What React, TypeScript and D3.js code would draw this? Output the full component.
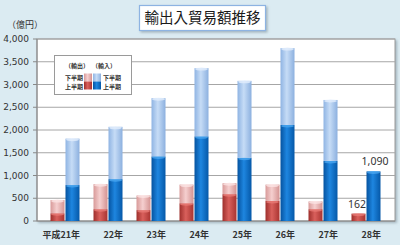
import React from 'react';
import * as d3 from 'd3';

const years = ['平成21年', '22年', '23年', '24年', '25年', '26年', '27年', '28年'];
const exportFirst = [170, 260, 240, 390, 590, 440, 260, 162];
const exportSecond = [290, 550, 320, 410, 240, 360, 170, 0];
const importFirst = [790, 920, 1420, 1860, 1390, 2110, 1320, 1090];
const importSecond = [1020, 1150, 1280, 1500, 1690, 1690, 1340, 0];
const yTicks = [0, 500, 1000, 1500, 2000, 2500, 3000, 3500, 4000];
const valueLabels = [
  { year: '28年', series: 'export', value: 162 },
  { year: '28年', series: 'import', value: 1090 },
];

const W = 400, H = 245;
const plot = { left: 37, right: 395, top: 39, bottom: 221 };

const y = d3.scaleLinear().domain([0, 4000]).range([plot.bottom, plot.top]);
const xGroup = d3.scaleBand().domain(years).range([43.5, 387.5]);
const barW = 14;
const fmt = d3.format(',');

const colors = {
  expFirst: ['#9e2f2c', '#d9605c', '#a93431'],
  expSecond: ['#d89a99', '#f5cfcf', '#d49392'],
  impFirst: ['#0553a0', '#1e86e0', '#0558a8'],
  impSecond: ['#8fb4e3', '#c6dcf6', '#8cb0df'],
};

function Grad({ id, c }: { id: string; c: string[] }) {
  return (
    <linearGradient id={id} x1="0" x2="1" y1="0" y2="0">
      <stop offset="0%" stopColor={c[0]} />
      <stop offset="45%" stopColor={c[1]} />
      <stop offset="100%" stopColor={c[2]} />
    </linearGradient>
  );
}

function Seg({ x, v0, v1, fill, cap }: { x: number; v0: number; v1: number; fill: string; cap: string }) {
  if (v1 <= v0) return null;
  const yt = y(v1);
  const yb = y(v0);
  return (
    <g>
      <rect x={x} y={yt} width={barW} height={yb - yt} fill={`url(#${fill})`} />
      <ellipse cx={x + barW / 2} cy={yt + 1} rx={barW / 2 - 0.5} ry={1.5} fill={cap} opacity={0.8} />
    </g>
  );
}

export default function App() {
  const numFont = 'DejaVu Sans, sans-serif';
  const jpFont = '"Noto Sans CJK JP", sans-serif';
  const legFont = 6;
  return (
    <svg width={W} height={H} style={{ position: 'absolute', left: 0, top: 0 }}>
      <defs>
        <Grad id="gExpFirst" c={colors.expFirst} />
        <Grad id="gExpSecond" c={colors.expSecond} />
        <Grad id="gImpFirst" c={colors.impFirst} />
        <Grad id="gImpSecond" c={colors.impSecond} />
        <filter id="sh" x="-10%" y="-10%" width="130%" height="140%">
          <feDropShadow dx="1.5" dy="1.5" stdDeviation="1" floodColor="#7f8f99" floodOpacity="0.6" />
        </filter>
      </defs>
      <rect x={0} y={0} width={W} height={H} fill="#dbebf2" />

      {/* title */}
      <rect x={139.5} y={5.5} width={126} height={25} fill="#ffffff" stroke="#8db3e2" strokeWidth={1.2} filter="url(#sh)" />
      <text x={202.5} y={23} textAnchor="middle" fontFamily={jpFont} fontSize={14.5} fill="#1a1a1a">輸出入貿易額推移</text>

      {/* unit */}
      <text x={7} y={28} fontFamily={jpFont} fontSize={9} fill="#333">（億円）</text>

      {/* plot area */}
      <rect x={plot.left} y={plot.top} width={plot.right - plot.left} height={plot.bottom - plot.top} fill="#ffffff" stroke="#9a9a9a" strokeWidth={1} filter="url(#sh)" />
      {yTicks.map((t) => (
        <g key={t}>
          {t > 0 && <line x1={plot.left} x2={plot.right} y1={y(t)} y2={y(t)} stroke="#a6a6a6" strokeWidth={1} />}
          <line x1={plot.left - 4} x2={plot.left} y1={y(t)} y2={y(t)} stroke="#888" />
          <text x={29} y={y(t) + 3.2} textAnchor="end" fontFamily={numFont} fontSize={9} fill="#333">{fmt(t)}</text>
        </g>
      ))}
      <line x1={plot.left} x2={plot.left} y1={plot.top} y2={plot.bottom} stroke="#888" />
      <line x1={plot.left} x2={plot.right} y1={plot.bottom} y2={plot.bottom} stroke="#888" />

      {/* bars */}
      {years.map((yr, i) => {
        const c = (xGroup(yr) as number) + xGroup.bandwidth() / 2;
        const xe = c - barW - 0.5;
        const xi = c + 0.5;
        return (
          <g key={yr}>
            <Seg x={xe} v0={0} v1={exportFirst[i]} fill="gExpFirst" cap="#e87a76" />
            <Seg x={xe} v0={exportFirst[i]} v1={exportFirst[i] + exportSecond[i]} fill="gExpSecond" cap="#fbe4e4" />
            <Seg x={xi} v0={0} v1={importFirst[i]} fill="gImpFirst" cap="#4aa6f0" />
            <Seg x={xi} v0={importFirst[i]} v1={importFirst[i] + importSecond[i]} fill="gImpSecond" cap="#e2eefc" />
            <text x={c + 15} y={238} textAnchor="end" fontFamily={jpFont} fontSize={9} fontWeight={700} fill="#333">{yr}</text>
          </g>
        );
      })}

      {/* value labels */}
      {valueLabels.map((d) => {
        const c = (xGroup(d.year) as number) + xGroup.bandwidth() / 2;
        const bx = d.series === 'export' ? c - barW / 2 - 2 : c + barW / 2 + 2;
        return (
          <text key={d.series} x={bx} y={y(d.value) - 6} textAnchor="middle" fontFamily="Noto Sans, sans-serif" fontSize={10.5} fill="#333">{fmt(d.value)}</text>
        );
      })}

      {/* legend */}
      <rect x={54.5} y={55.5} width={77} height={39} fill="#ffffff" stroke="#9a9a9a" strokeWidth={1} />
      <text x={77} y={68} textAnchor="middle" fontFamily={jpFont} fontSize={legFont} fontWeight={700} fill="#333">（輸出）</text>
      <text x={104} y={68} textAnchor="middle" fontFamily={jpFont} fontSize={legFont} fontWeight={700} fill="#333">（輸入）</text>
      <rect x={84} y={73.5} width={8} height={8} fill="url(#gExpSecond)" />
      <rect x={93} y={73.5} width={8} height={8} fill="url(#gImpSecond)" />
      <rect x={84} y={81.5} width={8} height={8} fill="url(#gExpFirst)" />
      <rect x={93} y={81.5} width={8} height={8} fill="url(#gImpFirst)" />
      <text x={83} y={79.5} textAnchor="end" fontFamily={jpFont} fontSize={legFont} fontWeight={700} fill="#333">下半期</text>
      <text x={83} y={88.5} textAnchor="end" fontFamily={jpFont} fontSize={legFont} fontWeight={700} fill="#333">上半期</text>
      <text x={103} y={79.5} fontFamily={jpFont} fontSize={legFont} fontWeight={700} fill="#333">下半期</text>
      <text x={103} y={88.5} fontFamily={jpFont} fontSize={legFont} fontWeight={700} fill="#333">上半期</text>
    </svg>
  );
}
